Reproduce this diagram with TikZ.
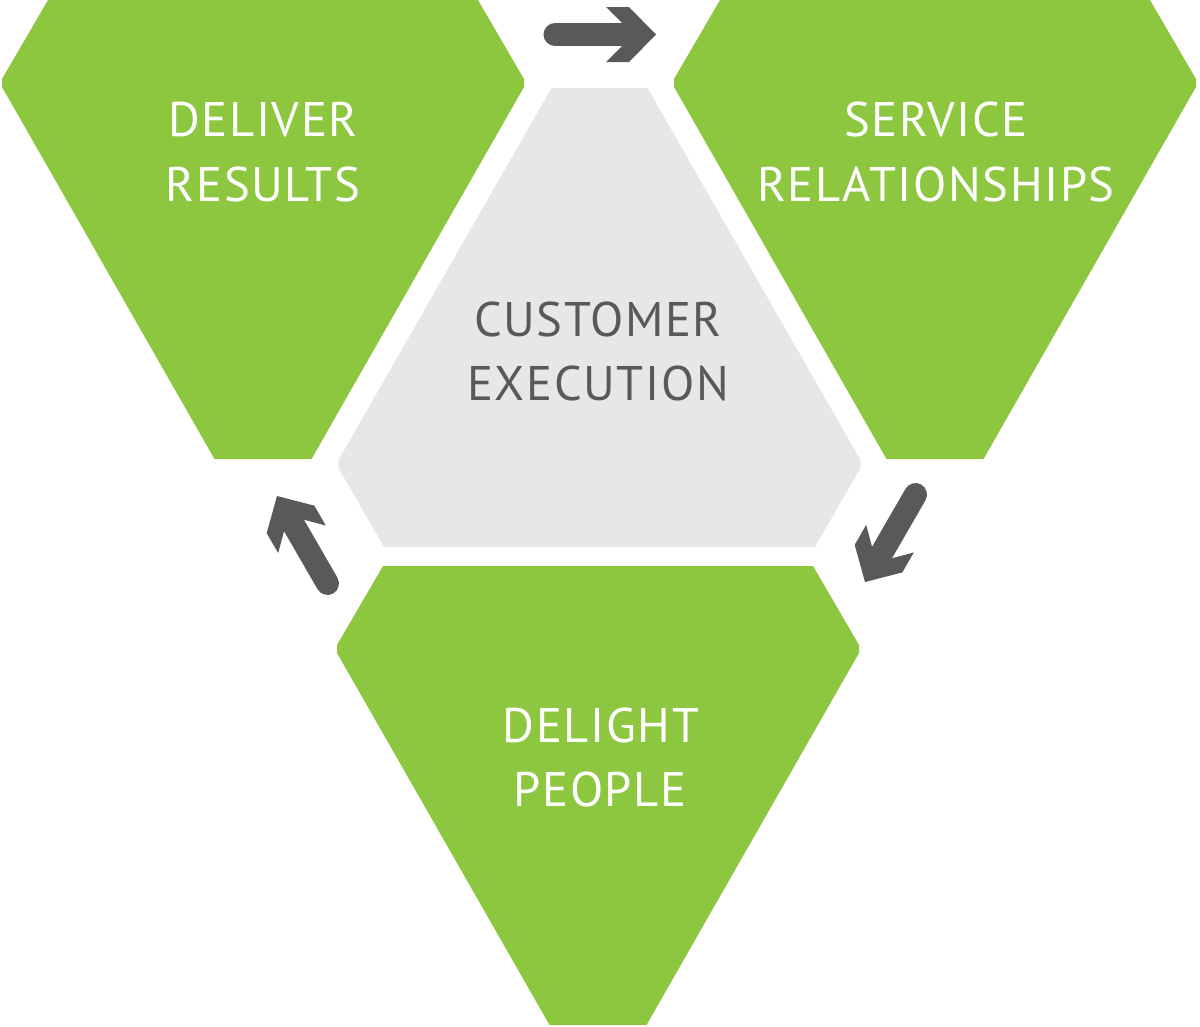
\documentclass[tikz,border=0pt]{standalone}
\usepackage{fontspec}
\setmainfont{PT Sans}[LetterSpace=3.3]
\definecolor{leaf}{HTML}{8DC63F}
\definecolor{pale}{HTML}{E6E7E8}
\definecolor{ink}{HTML}{58595B}
\tikzset{
  greenpart/.style={fill=leaf},
  graypart/.style={fill=pale},
  arrowpart/.style={fill=ink},
  wlabel/.style={text=white, anchor=base, inner sep=0pt, font=\fontsize{48.6}{58}\selectfont},
  glabel/.style={text=ink, anchor=base, inner sep=0pt, font=\fontsize{48.6}{58}\selectfont},
}
% downward shape: centre x, top y
\newcommand{\downhex}[3][greenpart]{%
  \fill[#1] ({#2-215},{#3}) -- ({#2+215},{#3}) -- ({#2+261},{#3+79}) -- ({#2+261},{#3+87})
    -- ({#2+48.5},{#3+459}) -- ({#2-48.5},{#3+459}) -- ({#2-261},{#3+87}) -- ({#2-261},{#3+79}) -- cycle;}
% upward shape: centre x, bottom y
\newcommand{\uphex}[3][graypart]{%
  \fill[#1] ({#2-48},{#3-459}) -- ({#2+48},{#3-459}) -- ({#2+261},{#3-87}) -- ({#2+261},{#3-79})
    -- ({#2+215.5},{#3}) -- ({#2-215.5},{#3}) -- ({#2-261},{#3-79}) -- ({#2-261},{#3-87}) -- cycle;}
% arrow, tip at origin pointing +x
\newcommand{\cyclearrow}{%
  \draw[ink, line width=23pt, line cap=round] (-101,0) -- (-32,0);
  \fill[arrowpart] (-50,-27.5) -- (-27,-27.5) -- (0,0) -- (-27,27.5) -- (-50,27.5) -- (-34,11.5) -- (-34,-11.5) -- cycle;}
\begin{document}
\begin{tikzpicture}[x=1pt,y=-1pt]
\useasboundingbox (0,0) rectangle (1200,1026);
\downhex{263}{0}
\downhex{935}{0}
\downhex{598}{566}
\uphex{599.5}{547}
% arrows
\coordinate (tipA) at (656,34.5);
\coordinate (tipB) at (865,582);
\coordinate (tipC) at (277,496);
\begin{scope}[shift={(tipA)}]\cyclearrow\end{scope}
\begin{scope}[shift={(tipB)}, rotate=240]\cyclearrow\end{scope}
\begin{scope}[shift={(tipC)}, rotate=120]\cyclearrow\end{scope}
% labels
\node[wlabel] (dr1) at (263,136) {DELIVER};
\node[wlabel] (dr2) at (263,201) {RESULTS};
\node[wlabel] (sr1) at (936,136) {SERVICE};
\node[wlabel] (sr2) at (936,201) {RELATIONSHIPS};
\node[glabel] (ce1) at (598,336) {CUSTOMER};
\node[glabel] (ce2) at (598,400) {EXECUTION};
\node[wlabel] (dp1) at (601,742) {DELIGHT};
\node[wlabel] (dp2) at (600,806) {PEOPLE};
\end{tikzpicture}
\end{document}
